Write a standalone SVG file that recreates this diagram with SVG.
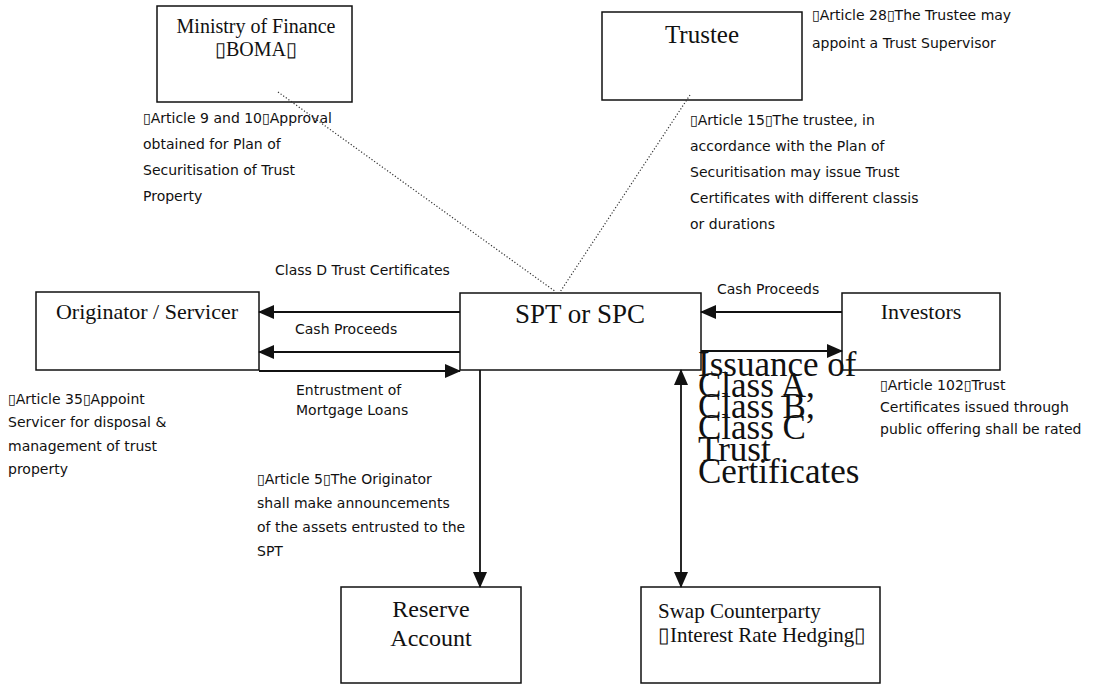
<svg xmlns="http://www.w3.org/2000/svg" width="1095" height="684" viewBox="0 0 1095 684">
  <style>
    .box { fill: #fff; stroke: #111; stroke-width: 1.5; }
    .title { font-family: "Liberation Serif", "Times New Roman", serif; fill: #111; text-anchor: middle; }
    .left { text-anchor: start; }
    .note { font-family: "DejaVu Sans", "Liberation Sans", sans-serif; font-size: 14px; fill: #111; }
    .flow { stroke: #111; stroke-width: 1.8; fill: none; }
    .dots { stroke: #333; stroke-width: 1.2; stroke-dasharray: 1.2 2; fill: none; }
    .big { font-family: "Liberation Serif", "Times New Roman", serif; font-size: 35px; fill: #111; }
  </style>
  <defs>
    <marker id="head" markerUnits="userSpaceOnUse" markerWidth="16" markerHeight="14" refX="15" refY="7" orient="auto-start-reverse">
      <path d="M0,0 L16,7 L0,14 Z" fill="#111"/>
    </marker>
  </defs>
  <rect width="1095" height="684" fill="#fff"/>

  <g id="ministry">
    <rect class="box" x="157" y="6" width="195" height="96"/>
    <text class="title" x="256" y="33" font-size="20">Ministry of Finance</text>
    <text class="title" x="256" y="56" font-size="20">▯BOMA▯</text>
  </g>

  <g id="trustee">
    <rect class="box" x="602" y="12" width="200" height="88"/>
    <text class="title" x="702" y="43" font-size="25">Trustee</text>
  </g>

  <g id="originator">
    <rect class="box" x="36" y="292" width="223" height="78"/>
    <text class="title" x="147" y="319" font-size="22">Originator / Servicer</text>
  </g>

  <g id="spt">
    <rect class="box" x="460" y="293" width="241" height="77"/>
    <text class="title" x="580" y="323" font-size="27">SPT or SPC</text>
  </g>

  <g id="investors">
    <rect class="box" x="842" y="293" width="158" height="77"/>
    <text class="title" x="921" y="319" font-size="22">Investors</text>
  </g>

  <g id="reserve">
    <rect class="box" x="341" y="587" width="180" height="96"/>
    <text class="title" x="431" y="617" font-size="24">Reserve</text>
    <text class="title" x="431" y="646" font-size="24">Account</text>
  </g>

  <g id="swap">
    <rect class="box" x="641" y="587" width="239" height="96"/>
    <text class="title left" x="658" y="618" font-size="21">Swap Counterparty</text>
    <text class="title left" x="658" y="642" font-size="21">▯Interest Rate Hedging▯</text>
  </g>

  <!-- dotted supervision links and flow arrows -->
  <g id="connectors">
    <line class="dots" x1="278" y1="92" x2="556" y2="292"/>
    <line class="dots" x1="690" y1="95" x2="560" y2="292"/>
    <line class="flow" x1="460" y1="312" x2="259" y2="312" marker-end="url(#head)"/>
    <line class="flow" x1="460" y1="352" x2="259" y2="352" marker-end="url(#head)"/>
    <line class="flow" x1="259" y1="371" x2="460" y2="371" marker-end="url(#head)"/>
    <line class="flow" x1="842" y1="312" x2="701" y2="312" marker-end="url(#head)"/>
    <line class="flow" x1="701" y1="351" x2="842" y2="351" marker-end="url(#head)"/>
    <line class="flow" x1="480" y1="370" x2="480" y2="587" marker-end="url(#head)"/>
    <line class="flow" x1="681" y1="370" x2="681" y2="587" marker-start="url(#head)" marker-end="url(#head)"/>
  </g>

  <!-- flow labels -->
  <g id="flow-labels">
    <text class="note" x="275" y="275">Class D Trust Certificates</text>
    <text class="note" x="295" y="334">Cash Proceeds</text>
    <text class="note" x="296" y="395">Entrustment of</text>
    <text class="note" x="296" y="415">Mortgage Loans</text>
    <text class="note" x="717" y="294">Cash Proceeds</text>
    <text class="big" x="698" y="376">Issuance of</text>
    <text class="big" x="698" y="397">Class A,</text>
    <text class="big" x="698" y="418">Class B,</text>
    <text class="big" x="698" y="439">Class C</text>
    <text class="big" x="698" y="461">Trust</text>
    <text class="big" x="698" y="483">Certificates</text>
  </g>

  <!-- legal notes -->
  <g id="notes">
    <text class="note" x="812" y="20">▯Article 28▯The Trustee may</text>
    <text class="note" x="812" y="48">appoint a Trust Supervisor</text>

    <text class="note" x="143" y="123">▯Article 9 and 10▯Approval</text>
    <text class="note" x="143" y="149">obtained for Plan of</text>
    <text class="note" x="143" y="175">Securitisation of Trust</text>
    <text class="note" x="143" y="201">Property</text>

    <text class="note" x="690" y="125">▯Article 15▯The trustee, in</text>
    <text class="note" x="690" y="151">accordance with the Plan of</text>
    <text class="note" x="690" y="177">Securitisation may issue Trust</text>
    <text class="note" x="690" y="203">Certificates with different classis</text>
    <text class="note" x="690" y="229">or durations</text>

    <text class="note" x="8" y="404">▯Article 35▯Appoint</text>
    <text class="note" x="8" y="427">Servicer for disposal &amp;</text>
    <text class="note" x="8" y="451">management of trust</text>
    <text class="note" x="8" y="474">property</text>

    <text class="note" x="880" y="390">▯Article 102▯Trust</text>
    <text class="note" x="880" y="412">Certificates issued through</text>
    <text class="note" x="880" y="434">public offering shall be rated</text>

    <text class="note" x="257" y="484">▯Article 5▯The Originator</text>
    <text class="note" x="257" y="508">shall make announcements</text>
    <text class="note" x="257" y="532">of the assets entrusted to the</text>
    <text class="note" x="257" y="556">SPT</text>
  </g>
</svg>
